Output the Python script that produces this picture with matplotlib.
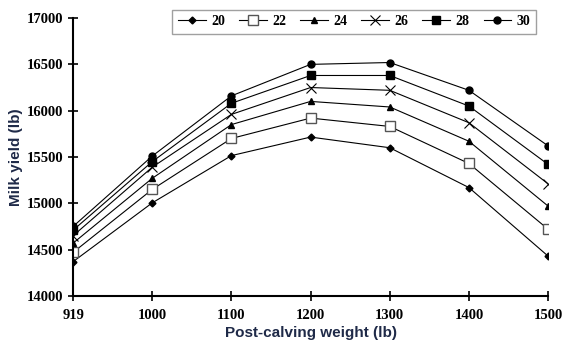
import matplotlib.pyplot as plt

weights = ['919', '1000', '1100', '1200', '1300', '1400', '1500']
series_names = ['20', '22', '24', '26', '28', '30']
y20 = [14370, 15005, 15515, 15715, 15600, 15170, 14430]
y22 = [14470, 15150, 15700, 15920, 15830, 15430, 14720]
y24 = [14570, 15270, 15850, 16100, 16040, 15670, 14970]
y26 = [14650, 15390, 15960, 16250, 16220, 15870, 15210]
y28 = [14710, 15450, 16080, 16380, 16380, 16050, 15420]
y30 = [14750, 15510, 16160, 16500, 16520, 16220, 15620]
all_series = [y20, y22, y24, y26, y28, y30]

# marker styles for each series
styles = [
    dict(marker='D', markersize=3.5, markerfacecolor='black'),
    dict(marker='s', markersize=6.5, markerfacecolor='white', markeredgecolor='#555555'),
    dict(marker='^', markersize=5, markerfacecolor='black'),
    dict(marker='x', markersize=7, markeredgewidth=0.8),
    dict(marker='s', markersize=5.5, markerfacecolor='black'),
    dict(marker='o', markersize=5, markerfacecolor='black'),
]

fig = plt.figure(figsize=(5.8, 3.54), dpi=100)
ax = fig.add_axes([0.126, 0.164, 0.819, 0.785])

x = list(range(len(weights)))
for name, ys, st in zip(series_names, all_series, styles):
    ax.plot(x, ys, color='black', linewidth=0.8, label=name, **st)

ax.set_xlim(0, len(weights) - 1)
ax.set_ylim(14000, 17000)
ax.set_xticks(x)
ax.set_xticklabels(weights)
ax.set_yticks(range(14000, 17001, 500))

for s in ['top', 'right']:
    ax.spines[s].set_visible(False)
for s in ['left', 'bottom']:
    ax.spines[s].set_linewidth(1.5)
ax.tick_params(axis='both', direction='inout', length=7, width=1.2,
               labelsize=10.5)
ax.tick_params(axis='x', pad=6)
for lab in ax.get_xticklabels() + ax.get_yticklabels():
    lab.set_fontfamily('Liberation Serif')
    lab.set_fontweight('bold')

ax.set_xlabel('Post-calving weight (lb)', fontsize=11, fontweight='bold',
              color='#1f2a48', family='Liberation Sans', labelpad=3)
ax.set_ylabel('Milk yield (lb)', fontsize=11, fontweight='bold',
              color='#1f2a48', family='Liberation Sans', labelpad=3)

leg = ax.legend(ncol=6, loc='upper right', bbox_to_anchor=(0.975, 1.03),
                borderaxespad=0, frameon=True, fancybox=False,
                edgecolor='#888888',
                prop={'family': 'Liberation Serif', 'weight': 'bold', 'size': 10},
                handlelength=2.0, handletextpad=0.4, columnspacing=1.0,
                borderpad=0.4)
leg.get_frame().set_linewidth(1.0)

plt.savefig('out.png', dpi=100)
